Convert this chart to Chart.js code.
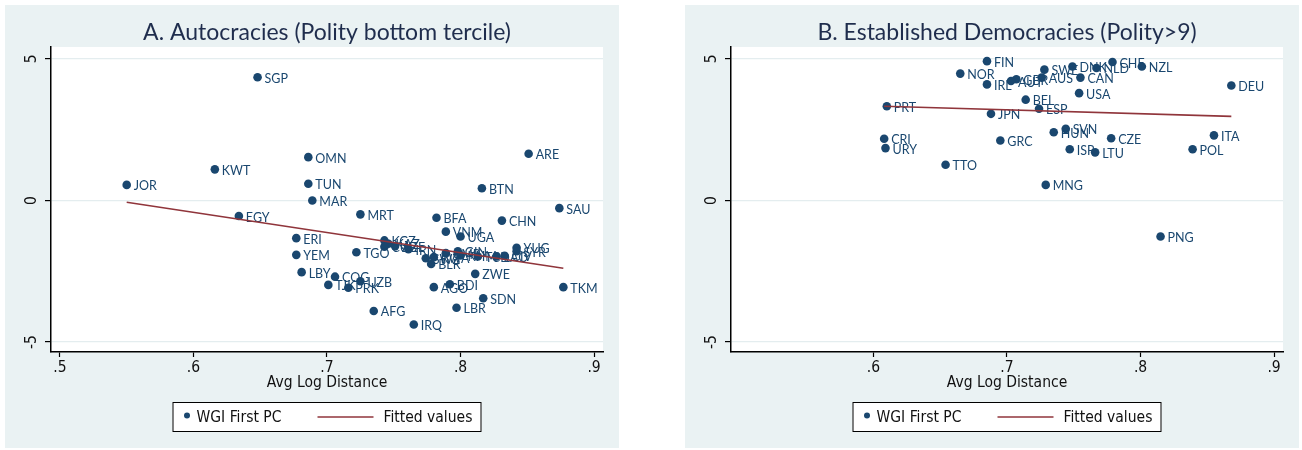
<!DOCTYPE html>
<html><head><meta charset="utf-8">
<script src="https://cdn.jsdelivr.net/npm/chart.js@4.4.0/dist/chart.umd.min.js"></script>
<style>
html,body{margin:0;padding:0;background:#fff;width:1302px;height:450px;overflow:hidden}
.panel{position:absolute;top:5px;width:614px;height:443px;background:#eaf2f3}
#pA{left:5px} #pB{left:685px}
canvas{display:block}
</style></head><body>
<div class="panel" id="pA"><canvas id="cA" width="614" height="443"></canvas></div>
<div class="panel" id="pB"><canvas id="cB" width="614" height="443"></canvas></div>
<script>
// ---------- data ----------
const countriesA = ['SGP','OMN','KWT','JOR','TUN','MAR','ARE','BTN','SAU','EGY','MRT','BFA','CHN','VNM','UGA','ERI','KGZ','KAZ','CUB','AZE','IRN','TGO','YEM','SWZ','RWA','BLR','CMR','GIN','KHM','TCD','LAO','CIV','YUG','SYR','ZWE','LBY','COG','UZB','TJK','PRK','AGO','BDI','TKM','SDN','LBR','AFG','IRQ'];
const distA = [0.648,0.686,0.616,0.550,0.686,0.689,0.851,0.816,0.874,0.634,0.725,0.782,0.831,0.789,0.800,0.677,0.743,0.746,0.743,0.751,0.761,0.722,0.677,0.774,0.780,0.778,0.789,0.798,0.800,0.813,0.827,0.833,0.842,0.842,0.811,0.681,0.706,0.725,0.701,0.716,0.780,0.792,0.877,0.817,0.797,0.735,0.765];
const wgiA = [4.35,1.53,1.10,0.55,0.59,0.00,1.65,0.43,-0.27,-0.55,-0.49,-0.61,-0.71,-1.10,-1.27,-1.33,-1.41,-1.53,-1.63,-1.61,-1.72,-1.83,-1.92,-2.04,-2.00,-2.24,-1.86,-1.79,-1.94,-1.98,-1.98,-1.95,-1.67,-1.79,-2.59,-2.53,-2.69,-2.85,-2.98,-3.08,-3.06,-2.96,-3.06,-3.45,-3.79,-3.90,-4.38];
const fitXA = [0.550, 0.877];
const fitYA = [-0.06, -2.39];

const countriesB = ['FIN','NOR','IRL','PRT','JPN','CRI','URY','TTO','GRC','GBR','AUT','SWE','AUS','DNK','NLD','CHE','NZL','CAN','USA','BEL','ESP','DEU','HUN','SVN','CZE','ITA','ISR','LTU','POL','MNG','PNG'];
const distB = [0.685,0.665,0.685,0.610,0.688,0.608,0.609,0.654,0.695,0.707,0.703,0.728,0.726,0.749,0.767,0.779,0.801,0.755,0.754,0.714,0.724,0.868,0.735,0.744,0.778,0.855,0.747,0.766,0.839,0.729,0.815];
const wgiB = [4.92,4.48,4.10,3.33,3.06,2.18,1.85,1.26,2.12,4.28,4.22,4.62,4.34,4.73,4.68,4.89,4.73,4.34,3.79,3.56,3.24,4.06,2.41,2.53,2.20,2.30,1.81,1.70,1.81,0.55,-1.27];
const fitXB = [0.608, 0.868];
const fitYB = [3.33, 2.97];

const yTicks = [-5, 0, 5];
const yTickLabels = ['-5', '0', '5'];
const xTicksA = [0.5, 0.6, 0.7, 0.8, 0.9];
const xTickLabelsA = ['.5', '.6', '.7', '.8', '.9'];
const xTicksB = [0.6, 0.7, 0.8, 0.9];
const xTickLabelsB = ['.6', '.7', '.8', '.9'];

const titleA = 'A. Autocracies (Polity bottom tercile)';
const titleB = 'B. Established Democracies (Polity>9)';
const xTitle = 'Avg Log Distance';
const legendNames = ['WGI First PC', 'Fitted values'];

// ---------- style ----------
const NAVY = '#1a476f';
const MAROON = '#90353b';
const NARROW = '"Liberation Sans Narrow", "DejaVu Sans Condensed", "Liberation Sans", Arial, sans-serif';
const LABELFONT = 'Lato, "Open Sans", sans-serif';
const TITLEFONT = 'Lato, "Open Sans", sans-serif';
const NARROWWEIGHT = 'normal condensed';

const plotBg = {
  id: 'plotBg',
  beforeDraw(chart) {
    const a = chart.chartArea, ctx = chart.ctx;
    ctx.save(); ctx.fillStyle = '#ffffff';
    ctx.fillRect(a.left, a.top, a.right - a.left, a.bottom - a.top);
    ctx.restore();
  }
};

const pointLabels = {
  id: 'pointLabels',
  afterDatasetDraw(chart, args, opts) {
    if (args.index !== 0) return;
    const ctx = chart.ctx;
    ctx.save();
    ctx.font = '12.5px ' + LABELFONT;
    ctx.fillStyle = NAVY;
    ctx.textBaseline = 'middle';
    ctx.textAlign = 'left';
    args.meta.data.forEach((el, i) => {
      ctx.fillText(opts.labels[i], el.x + 7, el.y + 1.5);
    });
    ctx.restore();
  }
};

const boxLegend = {
  id: 'boxLegend',
  afterDraw(chart) {
    const ctx = chart.ctx, a = chart.chartArea;
    const cx = (a.left + a.right) / 2;
    const w = 309, h = 30, top = 397;
    const left = cx - w / 2;
    const cy = top + h / 2;
    ctx.save();
    ctx.fillStyle = '#fff';
    ctx.fillRect(left, top, w, h);
    ctx.strokeStyle = '#000'; ctx.lineWidth = 1;
    ctx.strokeRect(left + 0.5, top + 0.5, w - 1, h - 1);
    ctx.fillStyle = NAVY;
    ctx.beginPath(); ctx.arc(left + 14.5, cy - 1.5, 3, 0, Math.PI * 2); ctx.fill();
    ctx.strokeStyle = MAROON; ctx.lineWidth = 1.5;
    ctx.beginPath(); ctx.moveTo(left + 145, cy); ctx.lineTo(left + 201, cy); ctx.stroke();
    ctx.fillStyle = '#111';
    ctx.font = NARROWWEIGHT + ' 15.5px ' + NARROW;
    ctx.textBaseline = 'middle'; ctx.textAlign = 'left';
    ctx.fillText(legendNames[0], left + 24, cy + 1);
    ctx.fillText(legendNames[1], left + 211, cy + 1);
    ctx.restore();
  }
};

function makeChart(id, title, xs, ys, names, fx, fy, xt, xtl) {
  const pts = xs.map((x, i) => ({x: x, y: ys[i]}));
  const fit = fx.map((x, i) => ({x: x, y: fy[i]}));
  return new Chart(document.getElementById(id), {
    type: 'scatter',
    data: {
      datasets: [
        { label: legendNames[0], data: pts, backgroundColor: NAVY, borderColor: NAVY,
          pointRadius: 4.3, pointHoverRadius: 4.3, borderWidth: 0, order: 1 },
        { label: legendNames[1], data: fit, type: 'line', showLine: true, borderColor: MAROON,
          borderWidth: 1.6, pointRadius: 0, fill: false, order: 0 }
      ]
    },
    options: {
      responsive: false, animation: false, devicePixelRatio: 1,
      layout: { padding: { left: 0, right: 16, top: 0, bottom: 0 } },
      plugins: {
        legend: { display: false },
        tooltip: { enabled: false },
        title: { display: true, text: title, fullSize: false, color: '#1f2d4d',
          font: { family: TITLEFONT, size: 23, weight: 'normal' }, padding: { top: 14.2, bottom: 0.2 } },
        pointLabels: { labels: names }
      },
      scales: {
        x: {
          type: 'linear', min: 0.4933, max: 0.9067,
          afterBuildTicks: s => { s.ticks = xt.map(v => ({ value: v })); },
          afterFit: s => { s.height = 96; },
          ticks: { callback: (v, i) => xtl[i], color: '#111', font: { family: NARROW, size: 15.5, weight: NARROWWEIGHT },
            padding: 2, maxRotation: 0, autoSkip: false },
          grid: { drawOnChartArea: false, tickLength: 5, tickColor: '#000', tickWidth: 1.2 },
          border: { color: '#000', width: 1.5 },
          title: { display: true, text: xTitle, color: '#111', font: { family: NARROW, size: 15.5, weight: NARROWWEIGHT },
            padding: { top: 0, bottom: 56 } }
        },
        y: {
          type: 'linear', min: -5.35, max: 5.42,
          afterBuildTicks: s => { s.ticks = yTicks.map(v => ({ value: v })); },
          afterFit: s => { s.width = 46; },
          ticks: { callback: (v, i) => yTickLabels[i], color: '#111', font: { family: NARROW, size: 15.5, weight: NARROWWEIGHT },
            minRotation: 90, maxRotation: 90, crossAlign: 'center', padding: 6 },
          grid: { color: '#e4edef', lineWidth: 1.2, tickLength: 6, tickColor: '#000', tickWidth: 1.2 },
          border: { color: '#000', width: 1.5 }
        }
      }
    },
    plugins: [plotBg, pointLabels, boxLegend]
  });
}

makeChart('cA', titleA, distA, wgiA, countriesA, fitXA, fitYA, xTicksA, xTickLabelsA);
makeChart('cB', titleB, distB, wgiB, countriesB, fitXB, fitYB, xTicksB, xTickLabelsB);
</script>
</body></html>
